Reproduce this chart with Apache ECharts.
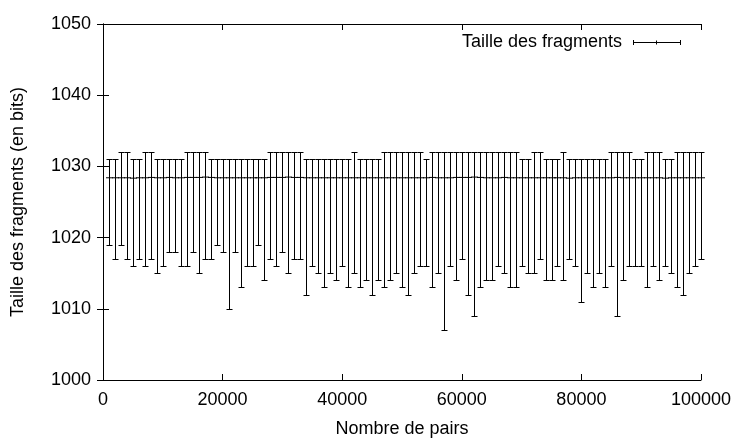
<!DOCTYPE html>
<html><head><meta charset="utf-8">
<script src="https://cdn.jsdelivr.net/npm/echarts@6/dist/echarts.min.js"></script>
<style>html,body{margin:0;padding:0;background:#fff}#c{width:735px;height:439px}</style>
</head><body><div id="c"></div>
<script>
// Number of peers (x positions of the points)
const pairs = [
 1000,2000,3000,4000,5000,6000,7000,8000,9000,10000,
 11000,12000,13000,14000,15000,16000,17000,18000,19000,20000,
 21000,22000,23000,24000,25000,26000,27000,28000,29000,30000,
 31000,32000,33000,34000,35000,36000,37000,38000,39000,40000,
 41000,42000,43000,44000,45000,46000,47000,48000,49000,50000,
 51000,52000,53000,54000,55000,56000,57000,58000,59000,60000,
 61000,62000,63000,64000,65000,66000,67000,68000,69000,70000,
 71000,72000,73000,74000,75000,76000,77000,78000,79000,80000,
 81000,82000,83000,84000,85000,86000,87000,88000,89000,90000,
 91000,92000,93000,94000,95000,96000,97000,98000,99000,100000
];
// Mean fragment size
const meanSize = [
 1028.4,1028.4,1028.4,1028.4,1028.35,1028.4,1028.4,1028.45,1028.4,1028.4,
 1028.45,1028.4,1028.4,1028.45,1028.45,1028.45,1028.5,1028.45,1028.4,1028.4,
 1028.4,1028.4,1028.4,1028.4,1028.4,1028.4,1028.4,1028.45,1028.45,1028.45,
 1028.5,1028.45,1028.45,1028.4,1028.4,1028.4,1028.4,1028.4,1028.4,1028.4,
 1028.4,1028.4,1028.4,1028.4,1028.4,1028.4,1028.4,1028.4,1028.4,1028.4,
 1028.4,1028.4,1028.4,1028.4,1028.45,1028.4,1028.4,1028.4,1028.45,1028.45,
 1028.45,1028.5,1028.45,1028.4,1028.4,1028.4,1028.45,1028.4,1028.4,1028.4,
 1028.4,1028.4,1028.4,1028.4,1028.4,1028.4,1028.4,1028.35,1028.4,1028.4,
 1028.4,1028.4,1028.4,1028.4,1028.4,1028.45,1028.4,1028.4,1028.4,1028.4,
 1028.4,1028.4,1028.4,1028.35,1028.4,1028.4,1028.4,1028.4,1028.4,1028.4
];
// Minimum fragment size
const minSize = [
 1019,1017,1019,1017,1016,1017,1016,1017,1015,1016,
 1018,1018,1016,1016,1018,1015,1017,1017,1019,1018,
 1010,1018,1013,1016,1016,1019,1014,1017,1016,1018,
 1015,1017,1017,1012,1016,1015,1013,1015,1014,1016,
 1013,1015,1013,1014,1012,1014,1013,1014,1015,1013,
 1012,1015,1016,1016,1013,1015,1007,1016,1014,1017,
 1012,1009,1013,1014,1014,1016,1015,1013,1013,1016,
 1015,1015,1017,1014,1014,1016,1014,1017,1016,1011,
 1015,1013,1015,1013,1016,1009,1014,1016,1016,1016,
 1013,1016,1014,1016,1015,1013,1012,1015,1016,1017
];
// Maximum fragment size
const maxSize = [
 1031,1031,1032,1032,1031,1031,1032,1032,1031,1031,
 1031,1031,1031,1032,1032,1032,1032,1031,1031,1031,
 1031,1031,1031,1031,1031,1031,1031,1032,1032,1032,
 1032,1032,1032,1031,1031,1031,1031,1031,1031,1031,
 1031,1032,1031,1031,1031,1031,1032,1032,1032,1032,
 1032,1032,1032,1031,1032,1032,1032,1032,1032,1032,
 1032,1032,1032,1032,1032,1032,1032,1032,1032,1031,
 1031,1032,1032,1031,1031,1031,1032,1031,1031,1031,
 1031,1031,1031,1031,1032,1032,1032,1032,1031,1031,
 1032,1032,1032,1031,1031,1032,1032,1032,1032,1032
];
const seriesName = 'Taille des fragments';
const xTitle = 'Nombre de pairs';
const yTitle = 'Taille des fragments (en bits)';

const FONT = '"Liberation Sans", Arial, Helvetica, sans-serif';
const errData = pairs.map((x, i) => [x, minSize[i], maxSize[i], meanSize[i]]);
const c = v => Math.round(v) + 0.5;
const st = { stroke: '#000', lineWidth: 1 };
const plain = v => String(v);

const chart = echarts.init(document.getElementById('c'), null, { renderer: 'canvas' });

const axisCommon = {
  axisLine: { show: true, lineStyle: { color: '#000', width: 1 } },
  axisTick: { show: true, inside: true, length: 6, lineStyle: { color: '#000' } },
  splitLine: { show: false }
};

chart.setOption({
  animation: false,
  backgroundColor: '#fff',
  grid: { left: 103, right: 34, top: 24, bottom: 59, containLabel: false, outerBoundsMode: 'none' },
  xAxis: [
    Object.assign({
      type: 'value', min: 0, max: 100000, interval: 20000, position: 'bottom',
      axisLabel: { color: '#000', fontSize: 18, fontFamily: FONT, margin: 11, formatter: plain },
      name: xTitle, nameLocation: 'middle', nameGap: 40,
      nameTextStyle: { color: '#000', fontSize: 18, fontFamily: FONT }
    }, axisCommon),
    Object.assign({
      type: 'value', min: 0, max: 100000, interval: 20000, position: 'top',
      axisLabel: { show: false }
    }, axisCommon)
  ],
  yAxis: [
    Object.assign({
      type: 'value', min: 1000, max: 1050, interval: 10, position: 'left',
      axisLabel: { color: '#000', fontSize: 18, fontFamily: FONT, margin: 12, formatter: plain },
      name: yTitle, nameLocation: 'middle', nameGap: 76,
      nameTextStyle: { color: '#000', fontSize: 18, fontFamily: FONT }
    }, axisCommon),
    Object.assign({
      type: 'value', min: 1000, max: 1050, interval: 10, position: 'right',
      axisLabel: { show: false }
    }, axisCommon)
  ],
  series: [
    {
      name: seriesName, type: 'custom', xAxisIndex: 0, yAxisIndex: 0,
      data: errData, clip: false,
      renderItem: function (params, api) {
        const x = api.value(0);
        const lo = api.coord([x, api.value(1)]);
        const hi = api.coord([x, api.value(2)]);
        const cx = c(lo[0]), yl = c(lo[1]), yh = c(hi[1]);
        return {
          type: 'group', children: [
            { type: 'line', shape: { x1: cx, y1: yl, x2: cx, y2: yh }, style: st },
            { type: 'line', shape: { x1: cx - 3, y1: yl, x2: cx + 3, y2: yl }, style: st },
            { type: 'line', shape: { x1: cx - 3, y1: yh, x2: cx + 3, y2: yh }, style: st }
          ]
        };
      }
    },
    {
      name: seriesName + ' (moyenne)', type: 'custom', xAxisIndex: 0, yAxisIndex: 0,
      data: errData, clip: false,
      renderItem: function (params, api) {
        const p = api.coord([api.value(0), api.value(3)]);
        const cx = c(p[0]), cy = p[1];
        return {
          type: 'group', children: [
            { type: 'line', shape: { x1: cx - 3.5, y1: cy, x2: cx + 3.5, y2: cy }, style: st },
            { type: 'line', shape: { x1: cx, y1: cy - 2, x2: cx, y2: cy + 2 }, style: st }
          ]
        };
      }
    }
  ],
  graphic: [
    { type: 'text', right: 735 - 622, top: 33,
      style: { text: seriesName, fill: '#000', font: '18px ' + FONT, textAlign: 'right' } },
    { type: 'line', shape: { x1: 633, y1: 42.5, x2: 680, y2: 42.5 }, style: st },
    { type: 'line', shape: { x1: 633.5, y1: 40, x2: 633.5, y2: 45 }, style: st },
    { type: 'line', shape: { x1: 680.5, y1: 40, x2: 680.5, y2: 45 }, style: st },
    { type: 'line', shape: { x1: 656.5, y1: 40.5, x2: 656.5, y2: 44.5 }, style: st }
  ]
});
</script>
</body></html>
